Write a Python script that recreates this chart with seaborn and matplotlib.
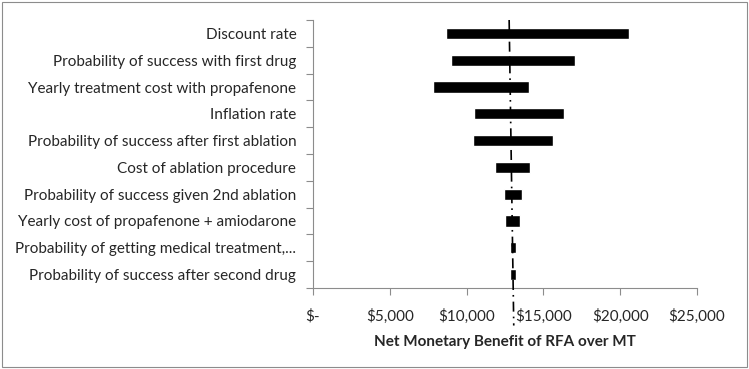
import numpy as np
import pandas as pd
import seaborn as sns
import matplotlib.pyplot as plt
from matplotlib.patches import Rectangle

sns.set_theme(style="white")
plt.rcParams["font.family"] = ["Lato", "DejaVu Sans"]

params = [
    "Discount rate",
    "Probability of success with first drug",
    "Yearly treatment cost with propafenone",
    "Inflation rate",
    "Probability of success after first ablation",
    "Cost of ablation procedure",
    "Probability of success given 2nd ablation",
    "Yearly cost of propafenone + amiodarone",
    "Probability of getting medical treatment,...",
    "Probability of success after second drug",
]
low = [8650, 8970, 7780, 10470, 10430, 11880, 12420, 12530, 12810, 12810]
high = [20550, 17050, 14070, 16340, 15600, 14150, 13610, 13500, 13220, 13200]
base_top, base_bottom = 12770, 13070
xticks = [0, 5000, 10000, 15000, 20000, 25000]
xlabels = ["$-", "$5,000", "$10,000", "$15,000", "$20,000", "$25,000"]

df = pd.DataFrame({"param": params, "low": low, "high": high})
df["width"] = df["high"] - df["low"]

fig = plt.figure(figsize=(7.49, 3.69), dpi=100)
ax = fig.add_axes([313 / 749, 1 - 288 / 369, 384 / 749, 268 / 369])

pos = np.arange(len(df))
ax.barh(pos, df["width"], left=df["low"], height=0.42, color="black")

# baseline (dash-dot), runs past the axis like the original
ax.plot([base_top, base_bottom], [-0.5, 10.9], color="black", lw=1.2,
        ls=(0, (6, 3, 1, 3)), clip_on=False, zorder=3)

ax.set_xlim(0, 25000)
ax.set_ylim(len(df) - 0.5, -0.5)
ax.set_xticks(xticks)
ax.set_xticklabels(xlabels, fontsize=11)
ax.set_yticks(pos)
ax.set_yticklabels(df["param"], fontsize=11)
ax.set_yticks(np.arange(len(df) + 1) - 0.5, minor=True)
ax.tick_params(axis="y", which="major", left=False, length=0, pad=12)
ax.tick_params(axis="y", which="minor", left=True, length=5, width=0.8, color="#8c8c8c", direction="out")
ax.tick_params(axis="x", bottom=True, length=5, width=0.8, color="#8c8c8c", direction="out", pad=10)
ax.set_xlabel("Net Monetary Benefit of RFA over MT", fontsize=11, fontweight="bold", labelpad=8)

sns.despine(ax=ax)
for s in ["left", "bottom"]:
    ax.spines[s].set_color("#8c8c8c")
    ax.spines[s].set_linewidth(0.8)

fig.patches.append(Rectangle((2 / 749, 2 / 369), 745 / 749, 365 / 369, transform=fig.transFigure,
                             fill=False, edgecolor="#8c8c8c", lw=0.8))

fig.savefig("out.png", dpi=100)
